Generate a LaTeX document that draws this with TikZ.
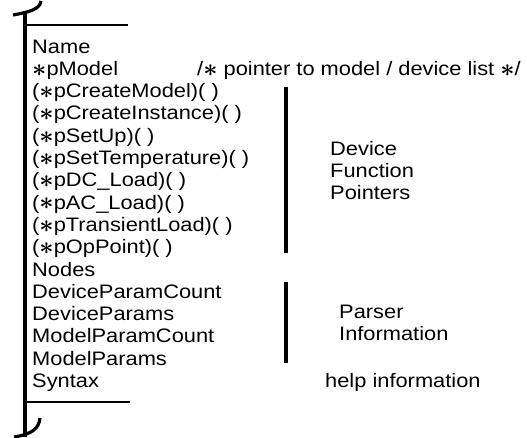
\documentclass[tikz,border=0pt]{standalone}
\usepackage{fontspec}
\usepackage{graphicx}
\setmainfont[FakeStretch=1.12]{Liberation Sans}
\newcommand\stx{\raisebox{-0.8pt}{\scalebox{1.2}{\boldmath$\ast$}}}
\begin{document}
\begin{tikzpicture}[x=1pt,y=-1pt,
  txt/.style={anchor=base west, inner sep=0pt, text height=14.5pt, text depth=4pt,
    font=\fontsize{19.5}{22}\selectfont},
  rule/.style={line width=2.6pt},
  spine/.style={line width=3.2pt},
  bar/.style={line width=3.8pt}]
\useasboundingbox (0,0) rectangle (527,437);
% frame
\coordinate (vtop) at (25,13);
\coordinate (vbot) at (25,437);
\draw[spine] (vtop) -- (vbot);
\draw[spine] (13,15) .. controls (30,12) and (40,9) .. (41,1);
\draw[spine] (40,418) .. controls (39,428) and (33,434) .. (14,437);
\coordinate (tl) at (25,25); \coordinate (tr) at (128,25);
\coordinate (bl) at (25,402); \coordinate (br) at (130,402);
\draw[rule] (tl) -- (tr);
\draw[rule] (bl) -- (br);
% bars
\coordinate (d1) at (286,87); \coordinate (d2) at (286,253);
\coordinate (p1) at (286,282); \coordinate (p2) at (286,363);
\draw[bar] (d1) -- (d2);
\draw[bar] (p1) -- (p2);
% left column
\node[txt] (r0) at (32,53.0) {Name};
\node[txt] (r1) at (32,75.3) {\stx pModel};
\node[txt] (r2) at (32,97.6) {(\stx pCreateModel)( )};
\node[txt] (r3) at (32,119.9) {(\stx pCreateInstance)( )};
\node[txt] (r4) at (32,142.2) {(\stx pSetUp)( )};
\node[txt] (r5) at (32,164.5) {(\stx pSetTemperature)( )};
\node[txt] (r6) at (32,186.8) {(\stx pDC\_Load)( )};
\node[txt] (r7) at (32,209.1) {(\stx pAC\_Load)( )};
\node[txt] (r8) at (32,231.4) {(\stx pTransientLoad)( )};
\node[txt] (r9) at (32,253.7) {(\stx pOpPoint)( )};
\node[txt] (r10) at (32,276.0) {Nodes};
\node[txt] (r11) at (32,298.3) {DeviceParamCount};
\node[txt] (r12) at (32,320.6) {DeviceParams};
\node[txt] (r13) at (32,342.9) {ModelParamCount};
\node[txt] (r14) at (32,365.2) {ModelParams};
\node[txt] (r15) at (32,387.5) {Syntax};
% right labels
\node[txt] (cmt) at (197,75.3) {/\stx{} pointer to model / device list \stx/};
\node[txt] (dev1) at (330,155.5) {Device};
\node[txt] (dev2) at (330,177.5) {Function};
\node[txt] (dev3) at (330,199.5) {Pointers};
\node[txt] (par1) at (339,318) {Parser};
\node[txt] (par2) at (339,340.5) {Information};
\node[txt] (help) at (325,387.5) {help information};
\end{tikzpicture}
\end{document}
